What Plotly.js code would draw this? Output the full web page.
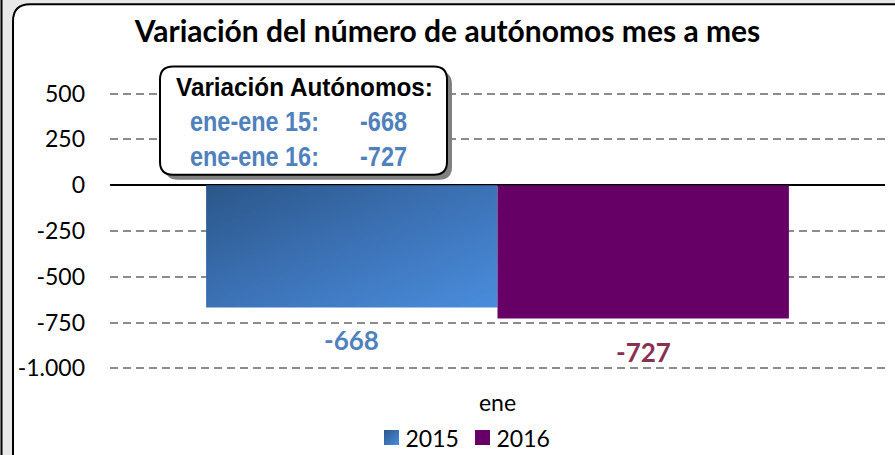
<!DOCTYPE html>
<html>
<head>
<meta charset="utf-8">
<script src="https://cdn.plot.ly/plotly-3.0.1.min.js"></script>
<style>html,body{margin:0;padding:0;background:#e8e8e8;}#chart{width:895px;height:455px;}</style>
</head>
<body>
<div id="chart"></div>
<script>
// ---- data ----
const categories = ["ene"];
const series2015 = [-668];
const series2016 = [-727];
const seriesNames = ["2015", "2016"];
const yTicks = [-1000, -750, -500, -250, 0, 250, 500];
const yTickLabels = ["-1.000", "-750", "-500", "-250", "0", "250", "500"];
const chartTitle = "Variación del número de autónomos mes a mes";
const boxTitle = "Variación Autónomos:";
const boxLabels = ["ene-ene 15:", "ene-ene 16:"];

// ---- layout helpers ----
const W = 895, H = 455;
const L = 110, R = 885;
const Y500 = 94, YM1000 = 368;            // pixel rows of 500 and -1000
const pxPerUnit = (YM1000 - Y500) / 1500;
const PAD = 25;                            // value padding beyond the gridlines
const T = Y500 - PAD * pxPerUnit, B = YM1000 + PAD * pxPerUnit;
const px2x = p => (p - L) / (R - L);
const px2y = p => (B - p) / (B - T);
function roundRect(x0, y0, x1, y1, r) {
  const P = (x, y) => px2x(x) + ',' + px2y(y);
  return 'M' + P(x0 + r, y0) + ' L' + P(x1 - r, y0) + ' Q' + P(x1, y0) + ' ' + P(x1, y0 + r) +
    ' L' + P(x1, y1 - r) + ' Q' + P(x1, y1) + ' ' + P(x1 - r, y1) +
    ' L' + P(x0 + r, y1) + ' Q' + P(x0, y1) + ' ' + P(x0, y1 - r) +
    ' L' + P(x0, y0 + r) + ' Q' + P(x0, y0) + ' ' + P(x0 + r, y0) + ' Z';
}

const blue = '#3f74b8';
const purple = '#660066';
const lblBlue = '#4f81bd';
const lblPurple = '#893153';
const narrow = '"Liberation Sans Narrow", "Arial Narrow", "Liberation Sans", Arial, sans-serif';
const lato = 'Lato, Carlito, Calibri, sans-serif';

const traces = [
  {type: 'bar', name: seriesNames[0], x: categories, y: series2015, marker: {color: blue}, hoverinfo: 'none'},
  {type: 'bar', name: seriesNames[1], x: categories, y: series2016, marker: {color: purple}, hoverinfo: 'none'}
];

// fitW: target pixel width (narrow-font emulation), applied after render
const annotations = [
  {xref: 'x', yref: 'y', x: categories[0], y: series2015[0], xshift: -146, yshift: -32,
   text: '<b>' + series2015[0] + '</b>', showarrow: false, font: {family: lato, size: 26, color: lblBlue}},
  {xref: 'x', yref: 'y', x: categories[0], y: series2016[0], xshift: 146, yshift: -34,
   text: '<b>' + series2016[0] + '</b>', showarrow: false, font: {family: lato, size: 26, color: lblPurple}},
  {xref: 'paper', yref: 'paper', x: px2x(304), y: px2y(87), xanchor: 'center', yanchor: 'middle',
   text: '<b>' + boxTitle + '</b>', showarrow: false, font: {family: narrow, size: 26, color: '#000'}},
  {xref: 'paper', yref: 'paper', x: px2x(188), y: px2y(122), xanchor: 'left', yanchor: 'middle',
   text: '<b>' + boxLabels[0] + '</b>', showarrow: false, font: {family: narrow, size: 28, color: lblBlue}},
  {xref: 'paper', yref: 'paper', x: px2x(409), y: px2y(122), xanchor: 'right', yanchor: 'middle',
   text: '<b>' + series2015[0] + '</b>', showarrow: false, font: {family: narrow, size: 28, color: lblBlue}},
  {xref: 'paper', yref: 'paper', x: px2x(188), y: px2y(157), xanchor: 'left', yanchor: 'middle',
   text: '<b>' + boxLabels[1] + '</b>', showarrow: false, font: {family: narrow, size: 28, color: lblBlue}},
  {xref: 'paper', yref: 'paper', x: px2x(409), y: px2y(157), xanchor: 'right', yanchor: 'middle',
   text: '<b>' + series2016[0] + '</b>', showarrow: false, font: {family: narrow, size: 28, color: lblBlue}}
];
const fitWidths = [null, null, 257, 129, 47, 129, 47];

const shapes = [
  {type: 'path', xref: 'paper', yref: 'paper', layer: 'below', path: roundRect(13, 5, 920, 480, 17),
   fillcolor: '#ffffff', line: {color: '#000', width: 2}},
  {type: 'line', xref: 'paper', yref: 'paper', layer: 'below', x0: px2x(1.5), x1: px2x(1.5), y0: px2y(-5), y1: px2y(460),
   line: {color: '#000', width: 2}},
  {type: 'path', xref: 'paper', yref: 'paper', layer: 'above', path: roundRect(165, 72, 452, 180, 13),
   fillcolor: '#808080', line: {width: 0}},
  {type: 'path', xref: 'paper', yref: 'paper', layer: 'above', path: roundRect(160, 67, 447, 175, 13),
   fillcolor: '#ffffff', line: {color: '#000', width: 2}}
];

const layout = {
  width: W, height: H, autosize: false,
  margin: {l: L, r: W - R, t: T, b: H - B, pad: 0, autoexpand: false},
  paper_bgcolor: '#e8e8e8', plot_bgcolor: 'rgba(0,0,0,0)',
  separators: ',.',
  title: {text: '<b>' + chartTitle + '</b>', font: {family: lato, size: 30, color: '#000'},
          x: 0.5, xref: 'container', xanchor: 'center', y: (H - 31) / H, yref: 'container', yanchor: 'middle'},
  barmode: 'group', bargap: 0.248, bargroupgap: 0,
  xaxis: {type: 'category', showgrid: false, zeroline: false, showline: false, ticks: '',
          tickfont: {family: lato, size: 23, color: '#000'}, ticklabelstandoff: 14, fixedrange: true},
  yaxis: {range: [-1000 - PAD, 500 + PAD], tickmode: 'array', tickvals: yTicks, ticktext: yTickLabels,
          showgrid: true, gridcolor: '#8c8c8c', gridwidth: 2, griddash: '8px,5px',
          zeroline: true, zerolinecolor: '#000', zerolinewidth: 1.5, showline: false, ticks: '',
          tickfont: {family: lato, size: 23, color: '#000'}, ticklabelstandoff: 24, fixedrange: true},
  legend: {orientation: 'h', x: px2x(371.5), xanchor: 'left', y: px2y(437), yanchor: 'middle',
           font: {family: lato, size: 23, color: '#000'}, bgcolor: 'rgba(0,0,0,0)', itemclick: false,
           entrywidth: 46, entrywidthmode: 'pixels'},
  showlegend: true,
  shapes: shapes,
  annotations: annotations
};

Plotly.newPlot('chart', traces, layout, {displayModeBar: false, staticPlot: true}).then(gd => {
  const svg = gd.querySelector('svg.main-svg');
  const ns = 'http://www.w3.org/2000/svg';
  let defs = svg.querySelector('defs');
  if (!defs) { defs = document.createElementNS(ns, 'defs'); svg.insertBefore(defs, svg.firstChild); }
  const g = document.createElementNS(ns, 'linearGradient');
  g.setAttribute('id', 'grad2015');
  g.setAttribute('x1', '0'); g.setAttribute('y1', '0'); g.setAttribute('x2', '1'); g.setAttribute('y2', '1');
  [['0', '#2b5689'], ['0.5', '#3c72b6'], ['1', '#4a8ddd']].forEach(([o, c]) => {
    const s = document.createElementNS(ns, 'stop');
    s.setAttribute('offset', o); s.setAttribute('stop-color', c); g.appendChild(s);
  });
  defs.appendChild(g);
  const barTraces = gd.querySelectorAll('.barlayer .trace');
  if (barTraces[0]) barTraces[0].querySelectorAll('path').forEach(p => p.style.fill = 'url(#grad2015)');
  const legendTraces = gd.querySelectorAll('.legend .traces');
  legendTraces.forEach((lt, i) => {
    lt.querySelectorAll('.legendpoints path').forEach(p => {
      if (i === 0) p.style.fill = 'url(#grad2015)';
      p.setAttribute('d', 'M7.5,7.5H-7.5V-7.5H7.5Z');
    });
    lt.querySelectorAll('text.legendtext').forEach(t => t.setAttribute('x', '34'));
  });
  // emulate the condensed font of the text box by fitting widths
  const annGroups = gd.querySelectorAll('.annotation');
  annGroups.forEach((ag, i) => {
    const target = fitWidths[i];
    if (!target) return;
    const t = ag.querySelector('text.annotation-text');
    if (!t) return;
    const bb = t.getBBox();
    const s = target / bb.width;
    const anchor = annotations[i].xanchor;
    const ax = anchor === 'left' ? bb.x : anchor === 'right' ? bb.x + bb.width : bb.x + bb.width / 2;
    const prev = t.getAttribute('transform') || '';
    t.setAttribute('transform', 'translate(' + ax + ',0) scale(' + s + ',1) translate(' + (-ax) + ',0) ' + prev);
  });
});
</script>
</body>
</html>
